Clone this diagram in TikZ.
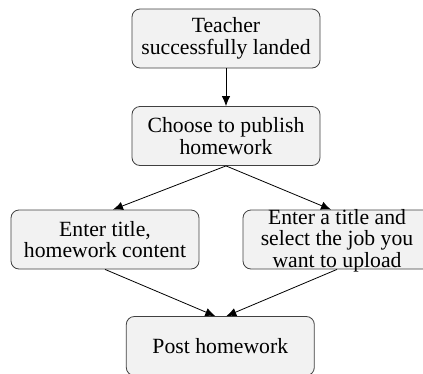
\documentclass[tikz,border=0pt]{standalone}
\usepackage{fontspec}
\setmainfont{Liberation Serif}
\usetikzlibrary{positioning, arrows.meta}

\begin{document}
\begin{tikzpicture}[x=1bp, y=1bp, >={Latex[length=10bp,width=8.5bp]}, node distance=100bp, on grid, auto]
        \tikzstyle{stage}=[draw=black!75, fill=black!5, rounded corners=8bp, line width=0.8bp,
            minimum width=188bp, minimum height=59bp, inner sep=0pt, align=center,
            font=\fontsize{21.7bp}{21.5bp}\selectfont]

        \useasboundingbox (0,0) rectangle (423,-374);
        \node[stage] (landed) at (226,-38.5) {Teacher\\successfully landed};
        \node[stage] (publish) [below=97.5bp of landed] {Choose to publish\\homework};
        \node[stage] (content) [below left=103.5bp and 121bp of publish] {Enter title,\\homework content};
        \node[stage, text height=57bp, text depth=2bp] (upload) [below right=103.5bp and 111bp of publish] {Enter a title and\\select the job you\\want to upload};
        \node[stage] (post) [below right=106.5bp and 115.3bp of content] {Post homework};
        \path[->, line width=0.8bp]
        (landed) edge (publish)
        (publish.south) edge ([xshift=8bp]content.north)
        (publish.south) edge ([xshift=-6bp]upload.north)
        (content.south) edge ([xshift=-5bp]post.north)
        (upload.south) edge ([xshift=6bp]post.north);
\end{tikzpicture}
\end{document}
